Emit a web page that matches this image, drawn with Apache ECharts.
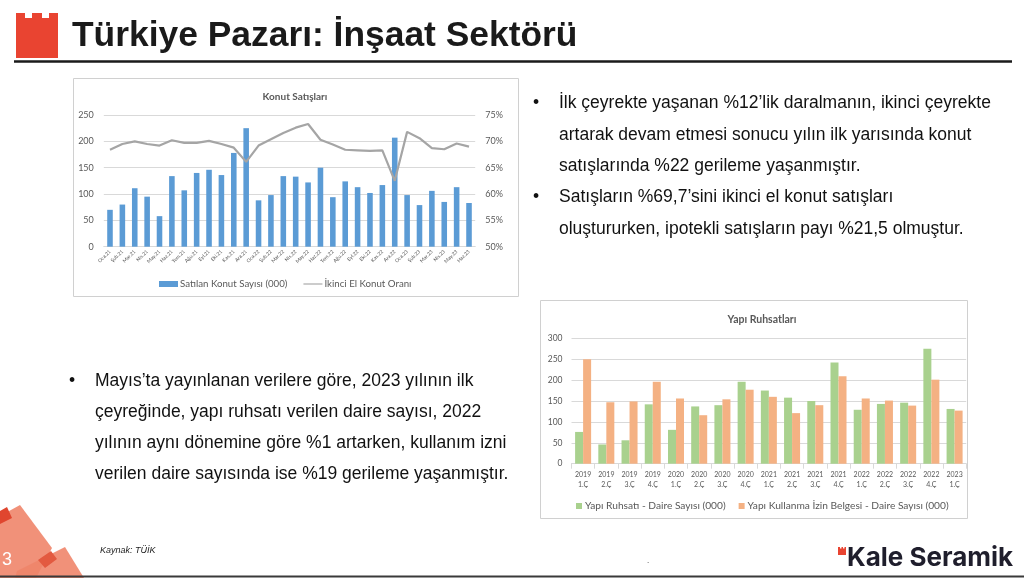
<!DOCTYPE html>
<html><head><meta charset="utf-8">
<script src="https://cdn.jsdelivr.net/npm/echarts@6.0.0/dist/echarts.min.js"></script>
<style>html,body{margin:0;padding:0;background:#fff}#c{width:1024px;height:578px}</style>
</head><body><div id="c"></div>
<script>
// ---- Konut Satışları ----
const konutMonths = ['Oca.21','Şub.21','Mar.21','Nis.21','May.21','Haz.21','Tem.21','Ağu.21','Eyl.21','Eki.21','Kas.21','Ara.21',
  'Oca.22','Şub.22','Mar.22','Nis.22','May.22','Haz.22','Tem.22','Ağu.22','Eyl.22','Eki.22','Kas.22','Ara.22',
  'Oca.23','Şub.23','Mar.23','Nis.23','May.23','Haz.23'];
const konutSales = [70,80,111,95,58,134,107,140,146,136,178,225,88,98,134,133,122,150,94,124,113,102,117,207,98,79,106,85,113,83];
const secondHandShare = [68.4,69.5,70.0,69.5,69.2,70.2,69.7,69.7,70.1,69.5,68.8,66.1,69.2,70.4,71.6,72.6,73.3,70.3,69.4,68.4,68.3,68.2,68.3,62.5,71.8,70.6,68.7,68.5,69.6,69.0];
const konutLeftTicks = [0,50,100,150,200,250];
const konutRightTicks = [50,55,60,65,70,75];
// ---- Yapı Ruhsatları ----
const quarters = ['2019\n1.Ç','2019\n2.Ç','2019\n3.Ç','2019\n4.Ç','2020\n1.Ç','2020\n2.Ç','2020\n3.Ç','2020\n4.Ç',
  '2021\n1.Ç','2021\n2.Ç','2021\n3.Ç','2021\n4.Ç','2022\n1.Ç','2022\n2.Ç','2022\n3.Ç','2022\n4.Ç','2023\n1.Ç'];
const permits = [76,46,56,142,81,137,140,196,175,158,150,242,129,143,146,275,131];
const occupancy = [250,147,149,196,156,116,154,177,160,121,140,209,156,151,139,201,127];
const yapiTicks = [0,50,100,150,200,250,300];

const chart = echarts.init(document.getElementById('c'), null, {renderer:'canvas'});
const F = 'Lato, "Noto Sans", sans-serif';
const A = '"Liberation Sans", Arial, sans-serif';
const gray = '#595959';

function txt(x, y, s, size, opts) {
  opts = opts || {};
  return {type:'text', x:x, y:y, silent:true, style:Object.assign({text:s, fill:'#111', fontSize:size, fontFamily:A, verticalAlign:'middle', align:'left'}, opts)};
}
const rightLines = [
  [103,'İlk çeyrekte yaşanan %12’lik daralmanın, ikinci çeyrekte'],
  [135,'artarak devam etmesi sonucu yılın ilk yarısında konut'],
  [166,'satışlarında %22 gerileme yaşanmıştır.'],
  [197,'Satışların %69,7’sini ikinci el konut satışları'],
  [229,'oluştururken, ipotekli satışların payı %21,5 olmuştur.']
];
const leftLines = [
  [381,'Mayıs’ta yayınlanan verilere göre, 2023 yılının ilk'],
  [412,'çeyreğinde, yapı ruhsatı verilen daire sayısı, 2022'],
  [443,'yılının aynı dönemine göre %1 artarken, kullanım izni'],
  [474,'verilen daire sayısında ise %19 gerileme yaşanmıştır.']
];
const graphics = [];
// chart frames
graphics.push({type:'rect', shape:{x:73.5,y:78.5,width:445,height:218}, style:{fill:'#fff',stroke:'#d0d0d0',lineWidth:1}, z:-10, silent:true});
graphics.push({type:'rect', shape:{x:540.5,y:300.5,width:427,height:218}, style:{fill:'#fff',stroke:'#d0d0d0',lineWidth:1}, z:-10, silent:true});
// logo castle
graphics.push({type:'polygon', shape:{points:[[16,13],[25,13],[25,18],[32,18],[32,13],[42,13],[42,18],[49,18],[49,13],[58,13],[58,58],[16,58]]}, style:{fill:'#e94431'}, silent:true});
// title
graphics.push(txt(72, 36, 'Türkiye Pazarı: İnşaat Sektörü', 35.4, {fontWeight:'bold', fill:'#1a1a1a'}));
graphics.push({type:'line', shape:{x1:14,y1:61.5,x2:1012,y2:61.5}, style:{stroke:'#1a1a1a', lineWidth:2.5}, silent:true});
// bullets
graphics.push(txt(533, 103, '•', 17.5));
graphics.push(txt(533, 197, '•', 17.5));
rightLines.forEach(l => graphics.push(txt(559, l[0], l[1], 17.5)));
graphics.push(txt(69, 381, '•', 17.5));
leftLines.forEach(l => graphics.push(txt(95, l[0], l[1], 17.5)));
// bottom-left decoration
graphics.push({type:'polygon', shape:{points:[[0,516],[20,505],[52,548],[36,578],[0,578]]}, style:{fill:'#f0856a', opacity:0.9}, silent:true});
graphics.push({type:'polygon', shape:{points:[[15,578],[17,571],[65,547],[84,578]]}, style:{fill:'#f0856a', opacity:0.9}, silent:true});
graphics.push({type:'polygon', shape:{points:[[0,511],[7,507],[12,518],[0,524]]}, style:{fill:'#e0462f'}, silent:true});
graphics.push({type:'polygon', shape:{points:[[38,560],[51,551],[57,559],[45,568]]}, style:{fill:'#e35a40'}, silent:true});
graphics.push(txt(2, 560, '3', 18, {fill:'#fff'}));
graphics.push(txt(100, 550, 'Kaynak: TÜİK', 9, {fontStyle:'italic', fill:'#222'}));
graphics.push(txt(647, 561, '.', 8, {fill:'#222'}));
// Kale Seramik logo
graphics.push({type:'polygon', shape:{points:[[838,547],[840,547],[840,548.5],[841.5,548.5],[841.5,547],[843,547],[843,548.5],[844.5,548.5],[844.5,547],[846,547],[846,555],[838,555]]}, style:{fill:'#e94431'}, silent:true});
graphics.push(txt(847, 558, 'Kale Seramik', 26, {fontWeight:'bold', fontFamily:'Inter, "Liberation Sans", sans-serif', fill:'#1f1e2c'}));
graphics.push({type:'line', shape:{x1:0,y1:576.5,x2:1024,y2:576.5}, style:{stroke:'#3a3a3a', lineWidth:2}, silent:true});

const lineIcon = 'path://M0,0 M0,2.4 L20,2.4 L20,3.6 L0,3.6 Z M20,6';

const option = {
  animation:false,
  textStyle:{fontFamily:F},
  title:[
    {text:'Konut Satışları', left:290, top:87, textAlign:'center', textStyle:{fontSize:10, fontWeight:'bold', color:gray, fontFamily:F}},
    {text:'Yapı Ruhsatları', left:757, top:309, textAlign:'center', textStyle:{fontSize:10.5, fontWeight:'bold', color:gray, fontFamily:F}}
  ],
  legend:[
    {left:159, top:279, padding:0, itemGap:16, itemWidth:19, itemHeight:6, textStyle:{fontSize:9.7, color:gray, fontFamily:F, padding:[0,0,0,-3]},
     data:[{name:'Satılan Konut Sayısı (000)', icon:'rect'}, {name:'İkinci El Konut Oranı', icon:lineIcon}]},
    {left:576, top:501, padding:0, itemGap:13, itemWidth:6, itemHeight:6, textStyle:{fontSize:10.2, color:gray, fontFamily:F, padding:[0,0,0,-2]},
     data:[{name:'Yapı Ruhsatı - Daire Sayısı (000)', icon:'rect'}, {name:'Yapı Kullanma İzin Belgesi - Daire Sayısı (000)', icon:'rect'}]}
  ],
  grid:[
    {left:103.8, right:1024-475.2, top:115, bottom:578-246.7, outerBoundsMode:'none', containLabel:false},
    {left:571.5, right:1024-966.2, top:338.3, bottom:578-463.7, outerBoundsMode:'none', containLabel:false}
  ],
  xAxis:[
    {type:'category', gridIndex:0, data:konutMonths, axisLine:{lineStyle:{color:'#d9d9d9'}}, axisTick:{show:false},
     axisLabel:{interval:0, rotate:45, fontSize:5, color:gray, margin:4}},
    {type:'category', gridIndex:1, data:quarters, axisLine:{lineStyle:{color:'#d9d9d9'}},
     axisTick:{show:true, alignWithLabel:false, length:5, lineStyle:{color:'#d9d9d9'}},
     axisLabel:{interval:0, fontSize:7, color:gray, margin:6, lineHeight:10}}
  ],
  yAxis:[
    {type:'value', gridIndex:0, min:konutLeftTicks[0], max:konutLeftTicks[konutLeftTicks.length-1], interval:50,
     axisLine:{show:false}, axisTick:{show:false}, splitLine:{lineStyle:{color:'#d9d9d9'}},
     axisLabel:{fontSize:9, color:gray, margin:10}},
    {type:'value', gridIndex:0, position:'right', min:konutRightTicks[0], max:konutRightTicks[konutRightTicks.length-1], interval:5,
     axisLine:{show:false}, axisTick:{show:false}, splitLine:{show:false},
     axisLabel:{fontSize:9, color:gray, margin:10, formatter:'{value}%'}},
    {type:'value', gridIndex:1, min:yapiTicks[0], max:yapiTicks[yapiTicks.length-1], interval:50,
     axisLine:{show:false}, axisTick:{show:false}, splitLine:{lineStyle:{color:'#d9d9d9'}},
     axisLabel:{fontSize:8.5, color:gray, margin:9}}
  ],
  series:[
    {name:'Satılan Konut Sayısı (000)', type:'bar', xAxisIndex:0, yAxisIndex:0, data:konutSales, barWidth:'45%', itemStyle:{color:'#5b9bd5'}},
    {name:'İkinci El Konut Oranı', type:'line', xAxisIndex:0, yAxisIndex:1, data:secondHandShare, symbol:'none', lineStyle:{color:'#a5a5a5', width:2.2}, itemStyle:{color:'#a5a5a5'}},
    {name:'Yapı Ruhsatı - Daire Sayısı (000)', type:'bar', xAxisIndex:1, yAxisIndex:2, data:permits, barGap:'0%', barCategoryGap:'31%', itemStyle:{color:'#a9d18e'}},
    {name:'Yapı Kullanma İzin Belgesi - Daire Sayısı (000)', type:'bar', xAxisIndex:1, yAxisIndex:2, data:occupancy, barGap:'0%', barCategoryGap:'31%', itemStyle:{color:'#f4b183'}}
  ],
  graphic:graphics
};
chart.setOption(option);
</script>
</body></html>
